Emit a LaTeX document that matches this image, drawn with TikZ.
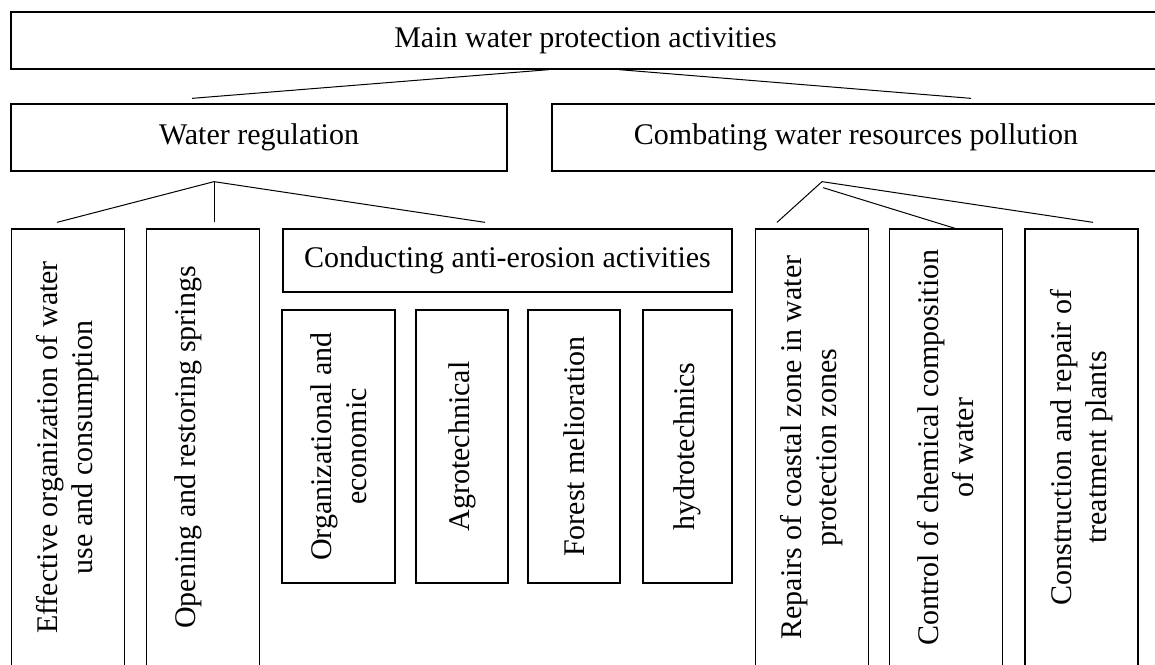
\documentclass[tikz,border=0pt]{standalone}
\usepackage{fontspec}
\setmainfont{Liberation Serif}
\usetikzlibrary{calc}
\tikzset{
  box/.style={draw, line width=0.65pt, inner sep=0pt, align=center, font=\fontsize{15}{17.5}\selectfont},
  upbox/.style={box, rotate=90},
  link/.style={line width=0.5pt}
}
\begin{document}
\begin{tikzpicture}[x=0.5pt,y=-0.5pt]
\useasboundingbox (0,0) rectangle (1155,664);
\node[box, minimum width=574.5pt, minimum height=28.5pt] (main) at (585.5,40.5) {Main water protection activities};
\node[box, minimum width=248pt, minimum height=33.5pt] (wr) at (259,137.5) {Water regulation};
\node[box, minimum width=304pt, minimum height=33.5pt] (comb) at (856,137.5) {Combating water resources pollution};
\node[box, minimum width=224.5pt, minimum height=31.5pt] (cond) at (507.5,260.5) {Conducting anti-erosion activities};
\foreach \nm/\cx/\txt in {eff/68/{Effective organization of water\\ use and consumption},
                          open/203/{Opening and restoring springs\\ \mbox{}},
                          rep/812/{Repairs of coastal zone in water\\ protection zones},
                          ctrl/946/{Control of chemical composition\\ of water},
                          cons/1081.5/{Construction and repair of\\ treatment plants}}
  \node[upbox, minimum width=218.5pt, minimum height=56.5pt] (\nm) at (\cx,447.5) {\txt};
\foreach \nm/\cx/\bw/\txt in {org/338.5/56.5/{Organizational and\\ economic},
                              agro/462/46/{Agrotechnical},
                              forest/574/46/{Forest melioration},
                              hydro/687.5/44.5/{hydrotechnics}}
  \node[upbox, minimum width=136.5pt, minimum height=\bw pt] (\nm) at (\cx,446.5) {\txt};
\draw[link] ($(main.south)+(-36.5,0)$) -- ($(wr.north)+(-67,-5)$);
\draw[link] ($(main.south)+(33.5,0)$) -- ($(comb.north)+(115,-5)$);
\coordinate (wrfork) at ($(wr.south)+(-45,10)$);
\coordinate (combfork) at ($(comb.south)+(-34,10)$);
\draw[link] (wrfork) -- ($(eff.east)+(-11,-6)$);
\draw[link] (wrfork) -- ($(open.east)+(11,-6)$);
\draw[link] (wrfork) -- ($(cond.north)+(-22.5,-6)$);
\draw[link] (combfork) -- ($(rep.east)+(-35,-6)$);
\draw[link] ($(combfork)+(1,6)$) -- ($(ctrl.east)+(9,0)$);
\draw[link] (combfork) -- ($(cons.east)+(11.5,-6)$);
\end{tikzpicture}
\end{document}
